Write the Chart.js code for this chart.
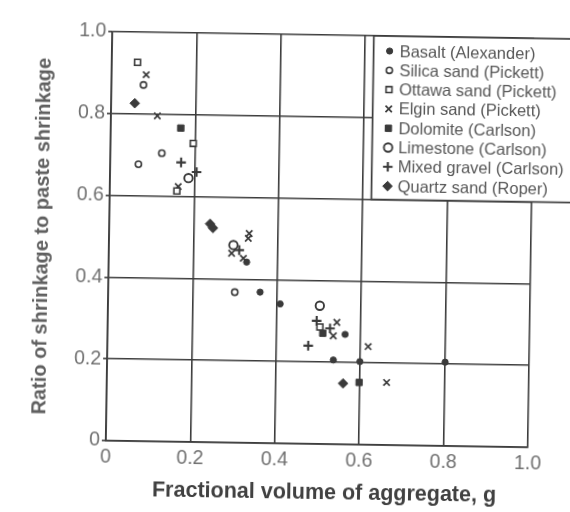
<!DOCTYPE html>
<html>
<head>
<meta charset="utf-8">
<script src="https://cdn.jsdelivr.net/npm/chart.js@4.4.1/dist/chart.umd.min.js"></script>
<style>
  html, body { margin: 0; padding: 0; background: #fff; }
  #wrap { width: 570px; height: 512px; overflow: hidden; }
  /* the printed figure sits slightly askew on the page */
  #chart { display: block; transform: rotate(0.9deg); transform-origin: 320px 241px; }
</style>
</head>
<body>
<div id="wrap"><canvas id="chart" width="570" height="512"></canvas></div>
<script>
// shrinkage ratio against aggregate volume fraction, one array per aggregate source
const seriesLabels = [
  'Basalt (Alexander)',
  'Silica sand (Pickett)',
  'Ottawa sand (Pickett)',
  'Elgin sand (Pickett)',
  'Dolomite (Carlson)',
  'Limestone (Carlson)',
  'Mixed gravel (Carlson)',
  'Quartz sand (Roper)'
];

// [g, ratio]
const basalt = [[0.327, 0.442], [0.360, 0.369], [0.408, 0.341], [0.563, 0.269], [0.536, 0.206], [0.599, 0.203], [0.801, 0.205]];
const silicaSand = [[0.076, 0.871], [0.122, 0.705], [0.067, 0.677], [0.300, 0.368]];
const ottawaSand = [[0.061, 0.926], [0.196, 0.730], [0.159, 0.613], [0.503, 0.286]];
const elginSand = [[0.082, 0.896], [0.110, 0.796], [0.162, 0.624], [0.332, 0.512], [0.330, 0.500], [0.291, 0.463],
                   [0.319, 0.451], [0.543, 0.298], [0.535, 0.265], [0.618, 0.240], [0.663, 0.153]];
const dolomite = [[0.166, 0.767], [0.510, 0.271], [0.598, 0.152]];
const limestone = [[0.186, 0.645], [0.295, 0.483], [0.502, 0.338]];
const mixedGravel = [[0.168, 0.683], [0.205, 0.660], [0.309, 0.471], [0.527, 0.283], [0.476, 0.240], [0.495, 0.301]];
const quartzSand = [[0.056, 0.826], [0.239, 0.534], [0.246, 0.524], [0.560, 0.149]];

const xTicks = [0, 0.2, 0.4, 0.6, 0.8, 1.0];
const xTickLabels = ['0', '0.2', '0.4', '0.6', '0.8', '1.0'];
const yTicks = [0, 0.2, 0.4, 0.6, 0.8, 1.0];
const yTickLabels = ['0', '0.2', '0.4', '0.6', '0.8', '1.0'];

const xTitle = 'Fractional volume of aggregate, g';
const yTitle = 'Ratio of shrinkage to paste shrinkage';

const FONT = '"Liberation Sans", Arial, Helvetica, sans-serif';
const INK = '#3a3a3a';
const GRID = '#3c3c3c';

const markerStyles = [
  { pointStyle: 'circle',   radius: 3.1, fill: INK,    width: 1 },
  { pointStyle: 'circle',   radius: 3.1, fill: '#fff', width: 1.6 },
  { pointStyle: 'rect',     radius: 4.2, fill: '#fff', width: 1.6 },
  { pointStyle: 'crossRot', radius: 4.5, fill: INK,    width: 1.7 },
  { pointStyle: 'rect',     radius: 4.5, fill: INK,    width: 1 },
  { pointStyle: 'circle',   radius: 4.2, fill: '#fff', width: 1.9 },
  { pointStyle: 'cross',    radius: 4.8, fill: INK,    width: 2.1 },
  { pointStyle: 'rectRot',  radius: 4.8, fill: INK,    width: 1 }
];

const seriesData = [basalt, silicaSand, ottawaSand, elginSand, dolomite, limestone, mixedGravel, quartzSand];

const datasets = seriesData.map((pts, i) => {
  const m = markerStyles[i];
  return {
    label: seriesLabels[i],
    data: pts.map(([x, y]) => ({ x, y })),
    pointStyle: m.pointStyle,
    pointRadius: m.radius,
    pointHoverRadius: m.radius,
    borderWidth: m.width,
    borderColor: INK,
    backgroundColor: m.fill,
    showLine: false
  };
});

// boxed key in the upper right corner, over the grid
const legendCorner = { g: 0.62, ratio: 0.6 };
const legendBox = {
  id: 'legendBox',
  afterDraw(chart) {
    const { ctx, chartArea, scales } = chart;
    const left = scales.x.getPixelForValue(legendCorner.g);
    const bottom = scales.y.getPixelForValue(legendCorner.ratio);
    const top = chartArea.top;
    const right = chart.width + 6;
    ctx.save();
    ctx.fillStyle = '#fff';
    ctx.fillRect(left, top, right - left, bottom - top);
    ctx.strokeStyle = GRID;
    ctx.lineWidth = 1.7;
    ctx.strokeRect(left, top, right - left, bottom - top);
    ctx.font = '16.5px ' + FONT;
    ctx.textBaseline = 'middle';
    ctx.textAlign = 'left';
    chart.data.datasets.forEach((ds, i) => {
      const y = top + 15 + i * 19.3;
      ctx.fillStyle = ds.backgroundColor;
      ctx.strokeStyle = ds.borderColor;
      ctx.lineWidth = ds.borderWidth;
      Chart.helpers.drawPoint(ctx, {
        pointStyle: ds.pointStyle, radius: ds.pointRadius, rotation: 0, borderWidth: ds.borderWidth
      }, left + 16, y);
      ctx.fillStyle = '#575757';
      ctx.fillText(ds.label, left + 26, y + 1);
    });
    ctx.restore();
  }
};

// axis titles placed by hand so they sit where the printed ones do
const axisTitles = {
  id: 'axisTitles',
  afterDraw(chart) {
    const { ctx, chartArea } = chart;
    ctx.save();
    ctx.textAlign = 'center';
    ctx.textBaseline = 'middle';
    ctx.font = 'bold 21.5px ' + FONT;
    ctx.fillStyle = '#404040';
    ctx.fillText(xTitle, 328, 493);
    ctx.translate(42, (chartArea.top + chartArea.bottom) / 2 + 1);
    ctx.rotate(-Math.PI / 2);
    ctx.font = 'bold 20px ' + FONT;
    ctx.fillStyle = '#606060';
    ctx.fillText(yTitle, 0, 0);
    ctx.restore();
  }
};

new Chart(document.getElementById('chart'), {
  type: 'scatter',
  data: { datasets },
  options: {
    responsive: false,
    animation: false,
    layout: { padding: { left: 0, top: 35, right: 39, bottom: 0 } },
    plugins: {
      legend: { display: false },
      tooltip: { enabled: false }
    },
    scales: {
      x: {
        type: 'linear',
        min: 0,
        max: 1,
        afterBuildTicks: (axis) => { axis.ticks = xTicks.map(value => ({ value })); },
        afterFit: (axis) => { axis.height = 68; },
        grid: { color: GRID, lineWidth: 1.6, drawTicks: false },
        border: { display: true, color: GRID, width: 1.8 },
        ticks: {
          padding: 5,
          color: '#707070',
          font: { family: FONT, size: 19.5 },
          maxRotation: 0,
          callback: (value, i) => xTickLabels[i]
        }
      },
      y: {
        type: 'linear',
        min: 0,
        max: 1,
        afterBuildTicks: (axis) => { axis.ticks = yTicks.map(value => ({ value })); },
        afterFit: (axis) => { axis.width = 109; },
        grid: { color: GRID, lineWidth: 1.6, drawTicks: true, tickLength: 4 },
        border: { display: true, color: GRID, width: 1.8 },
        ticks: {
          padding: 2,
          color: '#707070',
          font: { family: FONT, size: 19.5 },
          callback: (value, i) => yTickLabels[i]
        }
      }
    }
  },
  plugins: [legendBox, axisTitles]
});
</script>
</body>
</html>
